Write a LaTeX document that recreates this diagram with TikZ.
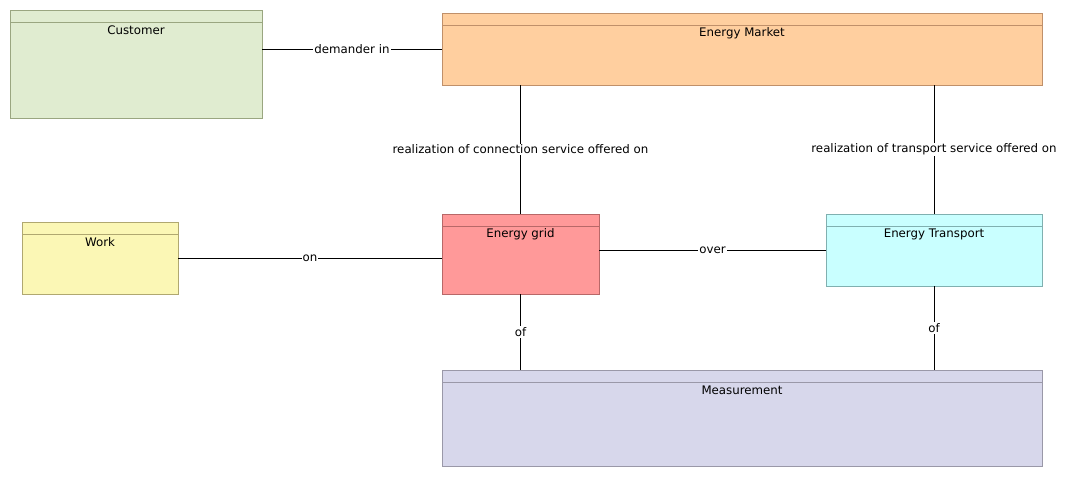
\documentclass[tikz,border=0pt]{standalone}
\usepackage{fontspec}
\setmainfont{DejaVu Sans}
\definecolor{custF}{HTML}{E0ECD0}\definecolor{custD}{HTML}{9AA680}
\definecolor{mktF}{HTML}{FFCF9F}\definecolor{mktD}{HTML}{C0906A}
\definecolor{workF}{HTML}{FBF7B5}\definecolor{workD}{HTML}{B0A870}
\definecolor{gridF}{HTML}{FF9999}\definecolor{gridD}{HTML}{B86868}
\definecolor{trF}{HTML}{C9FFFF}\definecolor{trD}{HTML}{80B0B0}
\definecolor{measF}{HTML}{D7D7EB}\definecolor{measD}{HTML}{9A98A8}
\newcommand{\umlbox}[8]{%
  \node[box, fill=#6, draw=#7, minimum width=#4, minimum height=#5] (#1) at (#2,#3) {};
  \draw[draw=#7, line width=0.8pt] ($(#1.north west)+(0,12)$) -- ($(#1.north east)+(0,12)$);
  \node[title] at ($(#1.north)+(0,20)$) {#8};
}
\usetikzlibrary{calc}
\begin{document}
\begin{tikzpicture}[x=1pt,y=-1pt,
  box/.style={rectangle, anchor=north west, inner sep=0pt, outer sep=0pt, line width=0.8pt},
  title/.style={font=\fontsize{11.8}{14}\selectfont, inner sep=0pt},
  conn/.style={draw=black, line width=0.9pt},
  lbl/.style={font=\fontsize{11.8}{14}\selectfont, fill=white, inner sep=1pt}]
\useasboundingbox[fill=white] (0,0) rectangle (1078,477);
\umlbox{cust}{10}{10}{252pt}{108pt}{custF}{custD}{Customer}
\umlbox{mkt}{442}{13}{600pt}{72pt}{mktF}{mktD}{Energy Market}
\umlbox{work}{22}{222}{156pt}{72pt}{workF}{workD}{Work}
\umlbox{grid}{442}{214}{157pt}{80pt}{gridF}{gridD}{Energy grid}
\umlbox{tr}{826}{214}{216pt}{72pt}{trF}{trD}{Energy Transport}
\umlbox{meas}{442}{370}{600pt}{96pt}{measF}{measD}{Measurement}
\draw[conn] (cust.east |- mkt.west) -- node[lbl]{demander in} (mkt.west);
\draw[conn] (mkt.south -| grid.north) -- node[lbl]{realization of connection service offered on} (grid.north);
\draw[conn] (mkt.south -| tr.north) -- node[lbl]{realization of transport service offered on} (tr.north);
\draw[conn] (work.east) -- node[lbl]{on} (work.east -| grid.west);
\draw[conn] (grid.east |- tr.west) -- node[lbl]{over} (tr.west);
\draw[conn] (grid.south) -- node[lbl]{of} (grid.south |- meas.north);
\draw[conn] (tr.south) -- node[lbl]{of} (tr.south |- meas.north);
\end{tikzpicture}
\end{document}
